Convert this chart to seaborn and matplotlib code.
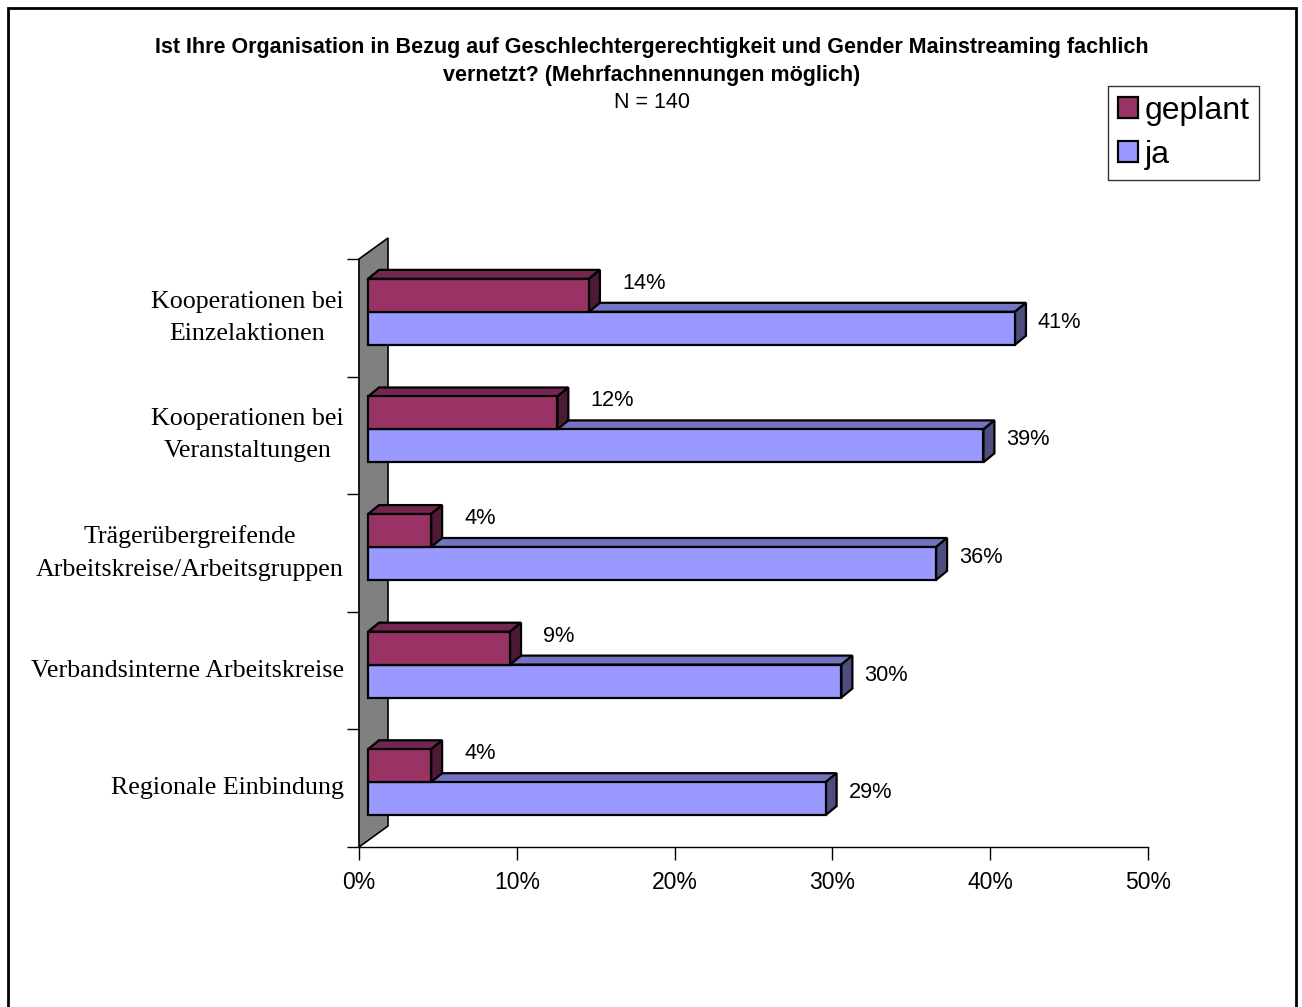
import matplotlib
matplotlib.use("Agg")
import matplotlib.pyplot as plt
from matplotlib.patches import Polygon, Rectangle
from matplotlib.transforms import ScaledTranslation, IdentityTransform
from matplotlib.ticker import FixedLocator, NullFormatter
import pandas as pd
import seaborn as sns

# ---- data ----------------------------------------------------------------
categories = [
    "Kooperationen bei\nEinzelaktionen",
    "Kooperationen bei\nVeranstaltungen",
    "Trägerübergreifende\nArbeitskreise/Arbeitsgruppen",
    "Verbandsinterne Arbeitskreise",
    "Regionale Einbindung",
]
geplant = [14, 12, 4, 9, 4]
ja = [41, 39, 36, 30, 29]
series_names = ["geplant", "ja"]
x_ticks = [0, 10, 20, 30, 40, 50]
x_tick_labels = ["0%", "10%", "20%", "30%", "40%", "50%"]
title_lines = [
    "Ist Ihre Organisation in Bezug auf Geschlechtergerechtigkeit und Gender Mainstreaming fachlich",
    "vernetzt? (Mehrfachnennungen möglich)",
]
subtitle = "N = 140"

df = pd.DataFrame({
    "Bereich": categories * 2,
    "Antwort": [series_names[0]] * len(categories) + [series_names[1]] * len(categories),
    "Anteil": geplant + ja,
})

# ---- styling ---------------------------------------------------------------
sns.set_theme(style="white")
plt.rcParams["font.family"] = ["Liberation Sans", "DejaVu Sans"]
plt.rcParams["text.color"] = "black"
plt.rcParams["xtick.color"] = "black"
plt.rcParams["ytick.color"] = "black"
plt.rcParams["axes.labelcolor"] = "black"

front = {"geplant": "#993366", "ja": "#9999FF"}
top = {"geplant": "#732650", "ja": "#7373BF"}
side = {"geplant": "#4D1A33", "ja": "#4D4D80"}

W, H = 1302, 1007
DPI = 100
fig = plt.figure(figsize=(W / DPI, H / DPI), dpi=DPI)
fig.patch.set_facecolor("white")

# plot area in pixel terms (left, right, top, bottom)
px_l, px_r, px_t, px_b = 359, 1148, 259, 847
ax = fig.add_axes([px_l / W, 1 - px_b / H, (px_r - px_l) / W, (px_b - px_t) / H])
ax.set_facecolor("none")

sns.barplot(
    data=df, x="Anteil", y="Bereich", hue="Antwort", orient="h",
    hue_order=series_names, palette=[front[s] for s in series_names],
    width=0.56, saturation=1, edgecolor="black", linewidth=1.6,
    legend=False, ax=ax,
)

ax.set_xlim(0, 50)
ax.set_ylim(len(categories) - 0.5, -0.5)

# 3D look: front faces sit slightly inside the depth of the wall
shift_x, shift_y = 9, 6          # pixels
depth_x, depth_y = 11, 9         # pixels
offset = ScaledTranslation(shift_x / DPI, shift_y / DPI, fig.dpi_scale_trans)


def series_of(patch):
    fc = patch.get_facecolor()
    fr = matplotlib.colors.to_rgba(front["geplant"])
    return "geplant" if all(abs(a - b) < 1e-3 for a, b in zip(fc, fr)) else "ja"


bars = [p for p in ax.patches]
for p in bars:
    s = series_of(p)
    z = 3 if s == "ja" else 5
    p.set_transform(ax.transData + offset)
    p.set_zorder(z + 0.5)
    p.set_clip_on(False)
    x0, y0 = p.get_x(), p.get_y()
    x1, y1 = x0 + p.get_width(), y0 + p.get_height()
    (L, B1), (R, B2) = (ax.transData + offset).transform([(x0, y0), (x1, y1)])
    bot, tp = min(B1, B2), max(B1, B2)
    top_face = Polygon(
        [(L, tp), (R, tp), (R + depth_x, tp + depth_y), (L + depth_x, tp + depth_y)],
        closed=True, facecolor=top[s], edgecolor="black", linewidth=1.6,
        transform=IdentityTransform(), zorder=z, clip_on=False)
    side_face = Polygon(
        [(R, bot), (R, tp), (R + depth_x, tp + depth_y), (R + depth_x, bot + depth_y)],
        closed=True, facecolor=side[s], edgecolor="black", linewidth=1.6,
        transform=IdentityTransform(), zorder=z, clip_on=False)
    fig.add_artist(top_face)
    fig.add_artist(side_face)

# value labels
for i, (g, j) in enumerate(zip(geplant, ja)):
    ax.annotate(f"{g}%", xy=(g, i - 0.14), xytext=(shift_x + depth_x + 22, shift_y + 12),
                textcoords="offset pixels", ha="left", va="center", fontsize=15.7,
                color="black", zorder=10, annotation_clip=False)
    ax.annotate(f"{j}%", xy=(j, i + 0.14), xytext=(shift_x + 23, shift_y + 6),
                textcoords="offset pixels", ha="left", va="center", fontsize=15.7,
                color="black", zorder=10, annotation_clip=False)

# side wall (gray parallelogram behind the bars)
wall_dx, wall_dy = 29, 21
(wl, wb), (_, wt) = ax.transData.transform([(0, len(categories) - 0.5), (0, -0.5)])
wall = Polygon([(wl, wb), (wl + wall_dx, wb + wall_dy), (wl + wall_dx, wt + wall_dy), (wl, wt)],
               closed=True, facecolor="#808080", edgecolor="black", linewidth=1.2,
               transform=IdentityTransform(), zorder=1, clip_on=False)
fig.add_artist(wall)
for p in bars:
    p.remove()
    fig.add_artist(p)

# axes, ticks, labels
for sp in ["top", "right"]:
    ax.spines[sp].set_visible(False)
for sp in ["left", "bottom"]:
    ax.spines[sp].set_color("black")
    ax.spines[sp].set_linewidth(1.0)

ax.set_xticks(x_ticks)
ax.set_xticklabels(x_tick_labels, fontsize=16.5)
ax.tick_params(axis="x", direction="out", length=9, width=1, color="black", pad=8, bottom=True)

ax.set_yticks(range(len(categories)))
ax.set_yticklabels(categories, fontsize=18.7, family=["Liberation Serif", "DejaVu Serif"],
                   linespacing=1.6, ha="right", va="center")
ax.tick_params(axis="y", which="major", length=0, pad=11)
ax.yaxis.set_minor_locator(FixedLocator([k - 0.5 for k in range(len(categories) + 1)]))
ax.yaxis.set_minor_formatter(NullFormatter())
ax.tick_params(axis="y", which="minor", direction="out", length=9, width=1, color="black", left=True)
for lab in ax.get_yticklabels():
    lab.set_multialignment("center")
ax.set_xlabel("")
ax.set_ylabel("")

# titles
fig.text(652 / W, 1 - 47 / H, title_lines[0], ha="center", va="center",
         fontsize=15.5, fontweight="bold")
fig.text(652 / W, 1 - 75 / H, title_lines[1], ha="center", va="center",
         fontsize=15.5, fontweight="bold")
fig.text(652 / W, 1 - 103 / H, subtitle, ha="center", va="center", fontsize=15.5)

# legend
handles = [Rectangle((0, 0), 1, 1, facecolor=front[s], edgecolor="black", linewidth=1.6)
           for s in series_names]
leg = fig.legend(handles, series_names, loc="upper left",
                 bbox_to_anchor=(1108 / W, 1 - 86 / H), bbox_transform=fig.transFigure,
                 fontsize=23, frameon=True, fancybox=False, shadow=False,
                 borderaxespad=0, borderpad=0.3, handlelength=0.65, handleheight=0.65,
                 handletextpad=0.2, labelspacing=0.45)
leg.get_frame().set_edgecolor("black")
leg.get_frame().set_linewidth(1.0)

# outer chart border
fig.add_artist(Rectangle((8 / W, -0.02), (1296 - 8) / W, 1 - 8 / H + 0.02,
                         transform=fig.transFigure, fill=False, edgecolor="black",
                         linewidth=2.0, zorder=20))

fig.savefig("out.png", dpi=DPI, facecolor="white")
